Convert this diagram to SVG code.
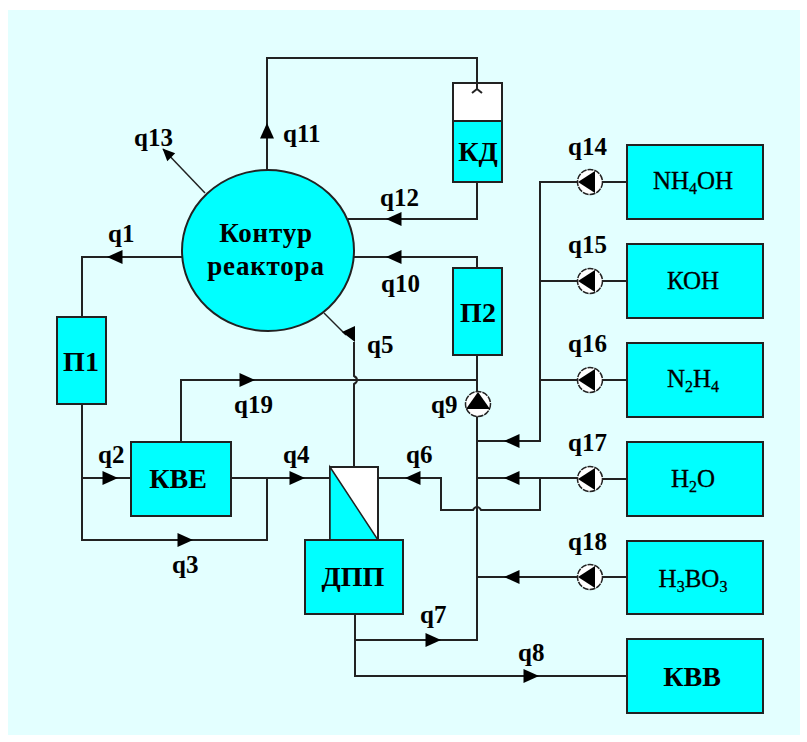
<svg xmlns="http://www.w3.org/2000/svg" width="807" height="742" viewBox="0 0 807 742">
<style>
.bg{fill:#e3ffff}
.box{fill:#00ffff;stroke:#222;stroke-width:2}
.w{fill:#fff;stroke:#222;stroke-width:2}
.l{fill:none;stroke:#222;stroke-width:2}
.t{fill:none;stroke:#222;stroke-width:1.500}
text{font-family:"Liberation Serif","Times New Roman",serif;font-weight:bold;fill:#000}
.q{font-size:25px}
.n{font-size:28px;text-anchor:middle}
.c{font-size:27px;text-anchor:middle;letter-spacing:.8px}
.f{font-size:25px;text-anchor:middle;font-weight:normal;stroke:#000;stroke-width:.3}
.s{font-size:16px}
</style>
<defs>
<path id="a" d="M8 0L-7.500-7V7Z" fill="#000"/>
<g id="p"><circle r="12.500" fill="#fff" stroke="#222" stroke-width="1.500" stroke-dasharray="6 1"/><path d="M-12 0L5-11V11Z" fill="#000"/></g>
</defs>
<rect x="0" y="0" width="807" height="742" fill="#fff"/>
<rect class="bg" x="8" y="10" width="792" height="725"/>
<g id="connectors">
<path class="l" d="M267 170V58H477V83"/>
<path class="l" d="M477 182V219H348"/>
<path class="l" d="M477 268V257H354"/>
<path class="l" d="M477 355V392M477 416V640H355M355 614V676H627"/>
<path class="l" d="M182 257H82V317M82 404V540H267V478M82 478H131M231 478H330"/>
<path class="l" d="M354 467V384C358 382 358 378 354 376V342"/>
<path class="t" d="M324 313L346 335"/>
<path class="l" d="M181 442V380H477"/>
<path class="l" d="M378 478H441V510H473C475 506 479 506 481 510H540V478M477 478H578"/>
<path class="l" d="M477 441H540V182H578M540 281H578M540 380H578M477 577H578"/>
<path class="l" d="M602 182H627M602 281H627M602 380H627M602 479H627M602 577H627"/>
<path class="t" d="M205 193L163 149"/>
</g>
<g id="arrows">
<use href="#a" transform="translate(267,131) rotate(-90)"/>
<use href="#a" transform="translate(394,219) rotate(180)"/>
<use href="#a" transform="translate(394,257) rotate(180)"/>
<use href="#a" transform="translate(115,257) rotate(180)"/>
<path d="M355 342L342 332L355 326Z" fill="#000"/>
<use href="#a" transform="translate(167,153) rotate(225) scale(.8)"/>
<use href="#a" transform="translate(247,380)"/>
<use href="#a" transform="translate(110,478)"/>
<use href="#a" transform="translate(185,540)"/>
<use href="#a" transform="translate(297,478)"/>
<use href="#a" transform="translate(413,478) rotate(180)"/>
<use href="#a" transform="translate(512,441) rotate(180)"/>
<use href="#a" transform="translate(512,478) rotate(180)"/>
<use href="#a" transform="translate(512,577) rotate(180)"/>
<use href="#a" transform="translate(433,640)"/>
<use href="#a" transform="translate(531,676)"/>
</g>
<g id="reactor"><ellipse class="box" cx="268" cy="250.500" rx="86" ry="80.500"/><text class="c" x="266" y="242">Контур</text><text class="c" x="266" y="275">реактора</text></g>
<g id="kd"><rect class="w" x="453" y="83" width="49" height="38"/><path class="l" d="M477 84V90M472 93L477 89L482 93"/><rect class="box" x="453" y="121" width="49" height="61"/><text class="n" x="478" y="161">КД</text></g>
<g id="p2"><rect class="box" x="453" y="268" width="49" height="87"/><text class="n" x="478" y="322">П2</text></g>
<g id="p1"><rect class="box" x="57" y="317" width="49" height="87"/><text class="n" x="81" y="371">П1</text></g>
<g id="kve"><rect class="box" x="131" y="442" width="100" height="74"/><text class="n" x="178" y="488">КВЕ</text></g>
<g id="exchanger"><rect class="w" x="330" y="467" width="48" height="73"/><path d="M330 467L378 540H330Z" fill="#00ffff" stroke="#222" stroke-width="1.500"/></g>
<g id="dpp"><rect class="box" x="305" y="540" width="98" height="74"/><text class="n" x="353" y="586">ДПП</text></g>
<g id="pump9"><circle cx="478" cy="404" r="12.500" fill="#fff" stroke="#222" stroke-width="1.500" stroke-dasharray="6 1"/><path d="M478 392L490 409H466Z" fill="#000"/></g>
<g id="pump14"><use href="#p" x="590" y="182"/></g>
<g id="pump15"><use href="#p" x="590" y="281"/></g>
<g id="pump16"><use href="#p" x="590" y="380"/></g>
<g id="pump17"><use href="#p" x="590" y="479"/></g>
<g id="pump18"><use href="#p" x="590" y="577"/></g>
<g id="nh4oh"><rect class="box" x="627" y="145" width="136" height="74"/><text class="f" x="693" y="189">NH<tspan class="s" dy="5">4</tspan><tspan dy="-5">OH</tspan></text></g>
<g id="koh"><rect class="box" x="627" y="244" width="136" height="74"/><text class="f" x="693" y="289">КОН</text></g>
<g id="n2h4"><rect class="box" x="627" y="343" width="136" height="74"/><text class="f" x="693" y="387">N<tspan class="s" dy="5">2</tspan><tspan dy="-5">H</tspan><tspan class="s" dy="5">4</tspan></text></g>
<g id="h2o"><rect class="box" x="627" y="442" width="136" height="74"/><text class="f" x="693" y="487">H<tspan class="s" dy="5">2</tspan><tspan dy="-5">O</tspan></text></g>
<g id="h3bo3"><rect class="box" x="627" y="541" width="136" height="73"/><text class="f" x="693" y="587">H<tspan class="s" dy="5">3</tspan><tspan dy="-5">BO</tspan><tspan class="s" dy="5">3</tspan></text></g>
<g id="kvv"><rect class="box" x="627" y="639" width="136" height="74"/><text class="n" x="692" y="686">КВВ</text></g>
<g id="labels">
<text class="q" x="134" y="146">q13</text>
<text class="q" x="283" y="142">q11</text>
<text class="q" x="380" y="206">q12</text>
<text class="q" x="108" y="242">q1</text>
<text class="q" x="381" y="292">q10</text>
<text class="q" x="367" y="353">q5</text>
<text class="q" x="431" y="413">q9</text>
<text class="q" x="234" y="413">q19</text>
<text class="q" x="98" y="463">q2</text>
<text class="q" x="283" y="463">q4</text>
<text class="q" x="406" y="463">q6</text>
<text class="q" x="172" y="573">q3</text>
<text class="q" x="420" y="623">q7</text>
<text class="q" x="518" y="661">q8</text>
<text class="q" x="568" y="155">q14</text>
<text class="q" x="568" y="253">q15</text>
<text class="q" x="568" y="352">q16</text>
<text class="q" x="568" y="451">q17</text>
<text class="q" x="568" y="550">q18</text>
</g>
</svg>
